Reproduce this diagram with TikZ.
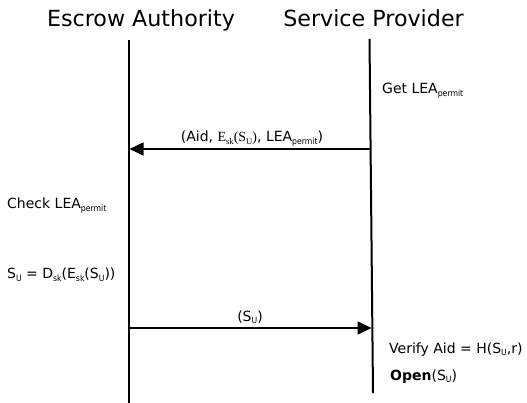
\documentclass[tikz,border=0pt]{standalone}
\usepackage{fontspec}
\setmainfont{DejaVu Sans}
\newfontfamily\tnr{Liberation Serif}
\newfontfamily\cnd{DejaVu Sans Condensed}
\usetikzlibrary{arrows.meta}
\newcommand{\sbs}[1]{\raisebox{-0.2em}{\cnd\fontsize{8.6}{9}\selectfont #1}}
\newcommand{\sbsr}[1]{\raisebox{-0.2em}{\fontsize{8.6}{9}\selectfont #1}}
\begin{document}
\begin{tikzpicture}[x=1pt,y=-1pt,
  lifeline/.style={line width=2pt},
  msg/.style={line width=1.6pt,-{Triangle[length=14pt,width=13pt]}},
  title/.style={font=\fontsize{22.2}{24}\selectfont, inner sep=0, anchor=base},
  note/.style={font=\fontsize{14}{16}\selectfont, anchor=base west, inner sep=0},
  lbl/.style={font=\fontsize{14}{16}\selectfont, inner sep=0, anchor=base}]
\useasboundingbox (0,0) rectangle (527,403);
\node[title] (ea) at (141,27) {Escrow Authority};
\node[title] (sp) at (373.5,27) {Service Provider};
\coordinate (eat) at (128.5,40);
\coordinate (eab) at (128.5,403);
\coordinate (spt) at (369.5,39);
\coordinate (spb) at (373,393);
\draw[lifeline] (eat) -- (eab);
\draw[lifeline] (spt) -- (spb);
\coordinate (m1s) at (370.6,149);
\coordinate (m1e) at (129.5,149);
\coordinate (m2s) at (129.5,328);
\coordinate (m2e) at (371.5,328);
\draw[msg] (m1s) -- (m1e);
\draw[msg] (m2s) -- (m2e);
\node[lbl] (l1) at (252,142) {(Aid, {\tnr E\sbsr{sk}(S\sbsr{U})}, LEA\sbs{permit})};
\node[lbl] (l2) at (250,321) {(S\sbs{U})};
\node[note] (n1) at (382,94) {Get LEA\sbs{permit}};
\node[note] (n2) at (7,209) {Check LEA\sbs{permit}};
\node[note] (n3) at (7,279) {S\sbs{U} = D\sbs{sk}(E\sbs{sk}(S\sbs{U}))};
\node[note] (n4) at (389,353) {Verify Aid = H(S\sbs{U},r)};
\node[note] (n5) at (390,380) {\textbf{Open}(S\sbs{U})};
\end{tikzpicture}
\end{document}
